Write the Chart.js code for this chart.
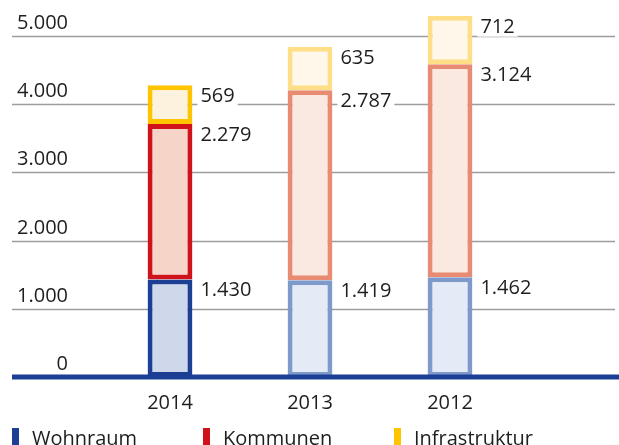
<!DOCTYPE html>
<html>
<head>
<meta charset="utf-8">
<script src="https://cdn.jsdelivr.net/npm/chart.js@4"></script>
<style>
  html, body { margin: 0; padding: 0; background: #fff; }
  #wrap { position: relative; width: 619px; height: 445px; overflow: hidden; }
  #chart { display: block; }
  .leg { position: absolute; top: 428px; font: 20px/20px "Open Sans", sans-serif; color: #1e1e1e; white-space: nowrap; }
  .leg i { position: absolute; left: -20px; top: 0; width: 7px; height: 20px; }
</style>
</head>
<body>
<div id="wrap">
  <canvas id="chart" width="619" height="445"></canvas>
  <div class="leg" style="left:32px"><i style="background:#1c3f94"></i>Wohnraum</div>
  <div class="leg" style="left:223px"><i style="background:#d0121b"></i>Kommunen</div>
  <div class="leg" style="left:414px"><i style="background:#fec400"></i>Infrastruktur</div>
</div>
<script>
// values in Mio. EUR
const years = ['2014', '2013', '2012'];
const wohnraum = [1430, 1419, 1462];
const kommunen = [2279, 2787, 3124];
const infrastruktur = [569, 635, 712];
const yTicks = [0, 1000, 2000, 3000, 4000, 5000];

const FONT = '"Open Sans", sans-serif';

// first year is strong, older years are lighter
const blueBorder = ['#1c3f94', '#7e9acb', '#7e9acb'];
const blueFill = ['#cfd8ea', '#e5ebf6', '#e5ebf6'];
const redBorder = ['#d0121b', '#e78b72', '#e78b72'];
const redFill = ['#f6d5c8', '#f9e9e1', '#f9e9e1'];
const yellowBorder = ['#fec400', '#ffde88', '#ffde88'];
const yellowFill = ['#fdf2dd', '#fff7ea', '#fff7ea'];

function fmt(v) {
  return String(v).replace(/\B(?=(\d{3})+(?!\d))/g, '.');
}

const gridPlugin = {
  id: 'gridPlugin',
  beforeDatasetsDraw(chart) {
    const ctx = chart.ctx;
    const y = chart.scales.y;
    ctx.save();
    ctx.font = '20px ' + FONT;
    ctx.fillStyle = '#1e1e1e';
    ctx.textAlign = 'right';
    ctx.textBaseline = 'alphabetic';
    yTicks.forEach(t => {
      const py = Math.round(y.getPixelForValue(t)) + 0.5;
      if (t !== 0) {
        ctx.strokeStyle = '#9d9d9d';
        ctx.lineWidth = 1.5;
        ctx.beginPath();
        ctx.moveTo(12, py);
        ctx.lineTo(615, py);
        ctx.stroke();
      }
      ctx.fillText(fmt(t), 68, py - 8);
    });
    ctx.restore();
  },
  afterDatasetsDraw(chart) {
    const ctx = chart.ctx;
    const y0 = chart.scales.y.getPixelForValue(0);
    ctx.save();
    // thick base line
    ctx.strokeStyle = '#1a3f94';
    ctx.lineWidth = 5;
    ctx.beginPath();
    ctx.moveTo(12, y0);
    ctx.lineTo(chart.width, y0);
    ctx.stroke();
    // value labels right of each segment
    ctx.font = '20px ' + FONT;
    ctx.textAlign = 'left';
    ctx.textBaseline = 'alphabetic';
    chart.data.datasets.forEach((ds, di) => {
      const meta = chart.getDatasetMeta(di);
      meta.data.forEach((bar, i) => {
        const txt = fmt(ds.data[i]);
        const x = bar.x + bar.width / 2 + 8;
        const ty = bar.y + 17;
        const w = ctx.measureText(txt).width;
        ctx.fillStyle = '#fff';
        ctx.fillRect(x - 3, ty - 16, w + 6, 20);
        ctx.fillStyle = '#1e1e1e';
        ctx.fillText(txt, x, ty);
      });
    });
    ctx.restore();
  }
};

new Chart(document.getElementById('chart'), {
  type: 'bar',
  data: {
    labels: years,
    datasets: [
      { label: 'Wohnraum', data: wohnraum, backgroundColor: blueFill, borderColor: blueBorder },
      { label: 'Kommunen', data: kommunen, backgroundColor: redFill, borderColor: redBorder },
      { label: 'Infrastruktur', data: infrastruktur, backgroundColor: yellowFill, borderColor: yellowBorder }
    ]
  },
  options: {
    responsive: false,
    animation: false,
    layout: { padding: { left: 100, right: 99, top: 36, bottom: 16 } },
    datasets: {
      bar: {
        borderWidth: 5,
        borderSkipped: false,
        barPercentage: 0.32,
        categoryPercentage: 1,
        clip: false
      }
    },
    plugins: {
      legend: { display: false },
      tooltip: { enabled: false }
    },
    scales: {
      x: {
        stacked: true,
        grid: { display: false, drawTicks: false },
        border: { display: false },
        ticks: { color: '#1e1e1e', font: { family: FONT, size: 20 }, padding: 14 }
      },
      y: {
        stacked: true,
        display: false,
        min: 0,
        max: 5000
      }
    }
  },
  plugins: [gridPlugin]
});
</script>
</body>
</html>
